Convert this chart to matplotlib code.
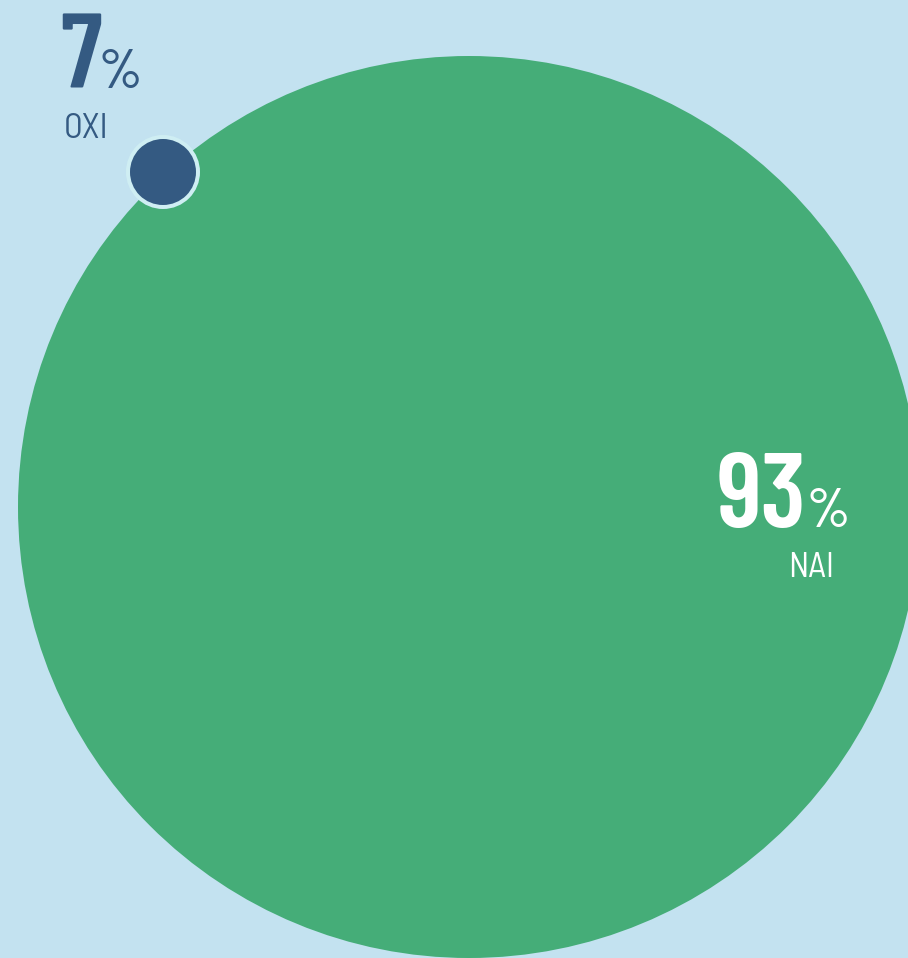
import matplotlib
matplotlib.use("Agg")
import matplotlib.pyplot as plt
from matplotlib.patches import Circle

# data
labels = ["NAI", "OXI"]
values = [93, 7]
colors = ["#45ad78", "#345a82"]

bg = "#c3e2f0"
ring = "#cfeef3"

fig = plt.figure(figsize=(9.08, 9.58), dpi=100)
fig.patch.set_facecolor(bg)
ax = fig.add_axes([0, 0, 1, 1])
ax.set_xlim(0, 908)
ax.set_ylim(958, 0)
ax.set_aspect("equal")
ax.axis("off")

# big circle (NAI)
ax.add_patch(Circle((469, 507), 451, facecolor=colors[0], edgecolor="none"))
# small circle (OXI) with light ring
ax.add_patch(Circle((163, 172), 37, facecolor=ring, edgecolor="none"))
ax.add_patch(Circle((163, 172), 33, facecolor=colors[1], edgecolor="none"))

num_font = ["Barlow Condensed", "DejaVu Sans"]
lab_font = ["Barlow Semi Condensed", "DejaVu Sans"]

# OXI label
ax.text(60, 88, str(values[1]), color=colors[1], fontsize=76, fontweight="semibold",
        family=num_font, ha="left", va="baseline")
ax.text(98, 88, "%", color=colors[1], fontsize=40, fontweight="medium",
        family=num_font, ha="left", va="baseline")
ax.text(64, 138, labels[1], color=colors[1], fontsize=25, family=lab_font,
        ha="left", va="baseline")

# NAI label
ax.text(806, 527, str(values[0]), color="white", fontsize=76, fontweight="semibold",
        family=num_font, ha="right", va="baseline")
ax.text(806, 527, "%", color="white", fontsize=40, fontweight="medium",
        family=num_font, ha="left", va="baseline")
ax.text(834, 577, labels[0], color="white", fontsize=25, family=lab_font,
        ha="right", va="baseline")

fig.savefig("out.png", dpi=100, facecolor=bg)
